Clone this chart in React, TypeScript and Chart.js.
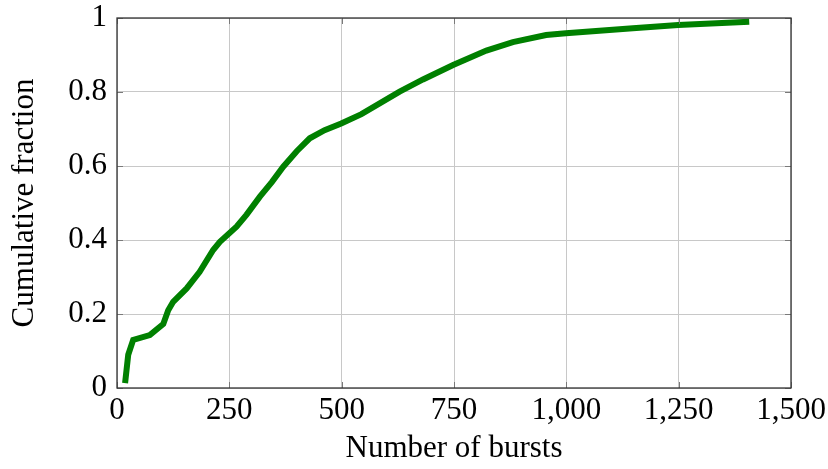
import React, { useEffect, useRef } from "react";
import { Chart, registerables } from "chart.js";

Chart.register(...registerables);

const bursts = [18, 25, 36, 73, 103, 114, 125, 155, 184, 214, 229, 266, 288, 318, 345, 370, 400, 429, 462, 499, 544, 629, 681, 748, 822, 881, 955, 999, 1148, 1249, 1407];
const fraction = [0.013, 0.09, 0.13, 0.143, 0.173, 0.21, 0.233, 0.269, 0.314, 0.373, 0.395, 0.436, 0.468, 0.517, 0.557, 0.598, 0.64, 0.675, 0.697, 0.715, 0.74, 0.801, 0.834, 0.873, 0.912, 0.935, 0.954, 0.959, 0.972, 0.981, 0.99];
const xTicks = [0, 250, 500, 750, 1000, 1250, 1500];
const yTicks = [0, 0.2, 0.4, 0.6, 0.8, 1];

const FONT = "'Liberation Serif', 'DejaVu Serif', serif";
const FS = 31;

const frame = {
  id: "frame",
  afterDraw(chart: any) {
    const { ctx, chartArea: a, scales } = chart;
    ctx.save();
    ctx.strokeStyle = "#7a7a7a";
    ctx.lineWidth = 1;
    const t = 6;
    ctx.beginPath();
    xTicks.forEach((v) => {
      const px = Math.round(scales.x.getPixelForValue(v)) + 0.5;
      ctx.moveTo(px, a.bottom); ctx.lineTo(px, a.bottom - t);
      ctx.moveTo(px, a.top); ctx.lineTo(px, a.top + t);
    });
    yTicks.forEach((v) => {
      const py = Math.round(scales.y.getPixelForValue(v)) + 0.5;
      ctx.moveTo(a.left, py); ctx.lineTo(a.left + t, py);
      ctx.moveTo(a.right, py); ctx.lineTo(a.right - t, py);
    });
    ctx.stroke();
    ctx.strokeStyle = "#333333";
    ctx.lineWidth = 1.3;
    ctx.strokeRect(a.left, a.top, a.right - a.left, a.bottom - a.top);
    ctx.restore();
  },
};

export default function App() {
  const ref = useRef<HTMLCanvasElement>(null);
  useEffect(() => {
    document.body.style.margin = "0";
    const chart = new Chart(ref.current!, {
      type: "scatter",
      data: {
        datasets: [
          {
            data: bursts.map((x, i) => ({ x, y: fraction[i] })),
            showLine: true,
            borderColor: "#008000",
            backgroundColor: "#008000",
            borderWidth: 6,
            pointRadius: 0,
            tension: 0,
            clip: false as any,
          },
        ],
      },
      options: {
        animation: false,
        responsive: false,
        layout: { padding: { left: 0, right: 37, top: 18, bottom: 0 } },
        plugins: { legend: { display: false }, tooltip: { enabled: false } },
        scales: {
          x: {
            type: "linear",
            min: 0,
            max: 1500,
            afterBuildTicks: (s: any) => { s.ticks = xTicks.map((v) => ({ value: v })); },
            afterFit: (s: any) => { s.height = 81; s.paddingLeft = 0; s.paddingRight = 0; },
            ticks: {
              color: "#000",
              font: { family: FONT, size: FS },
              padding: 4,
              maxRotation: 0,
              callback: (v: any) => Number(v).toLocaleString("en-US"),
            },
            grid: { color: "#c8c8c8", lineWidth: 1, drawTicks: false },
            border: { display: false },
            title: {
              display: true,
              text: "Number of bursts",
              color: "#000",
              font: { family: FONT, size: FS },
              padding: { top: 4, bottom: 2 },
            },
          },
          y: {
            type: "linear",
            min: 0,
            max: 1,
            afterBuildTicks: (s: any) => { s.ticks = yTicks.map((v) => ({ value: v })); },
            afterFit: (s: any) => { s.width = 117; s.paddingTop = 0; s.paddingBottom = 0; },
            ticks: {
              color: "#000",
              font: { family: FONT, size: FS },
              padding: 10,
              callback: (v: any) => String(Number(v)),
            },
            grid: { color: "#c8c8c8", lineWidth: 1, drawTicks: false },
            border: { display: false },
            title: {
              display: true,
              text: "Cumulative fraction",
              color: "#000",
              font: { family: FONT, size: FS },
              padding: { top: 6, bottom: 6 },
            },
          },
        },
      },
      plugins: [frame],
    });
    return () => chart.destroy();
  }, []);
  return (
    <div style={{ width: 828, height: 469 }}>
      <canvas ref={ref} width={828} height={469} style={{ display: "block" }} />
    </div>
  );
}
